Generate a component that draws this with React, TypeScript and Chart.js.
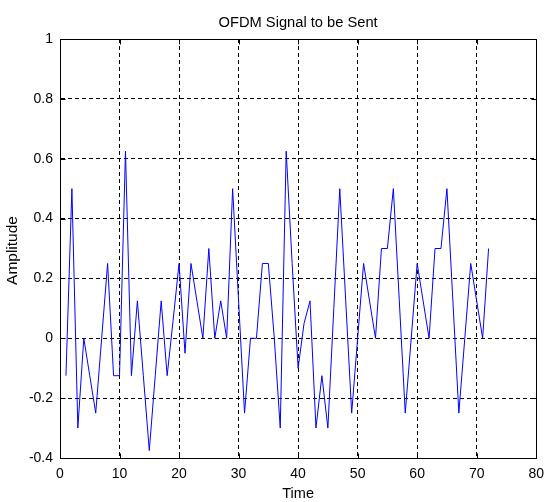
import React, { useEffect, useRef } from "react";
import { Chart, registerables } from "chart.js";

Chart.register(...registerables);

const TITLE = "OFDM Signal to be Sent";
const X_LABEL = "Time";
const Y_LABEL = "Amplitude";

const X_TICKS = [0, 10, 20, 30, 40, 50, 60, 70, 80];
const Y_TICKS = [-0.4, -0.2, 0, 0.2, 0.4, 0.6, 0.8, 1];
const Y_TICK_LABELS = ["-0.4", "-0.2", "0", "0.2", "0.4", "0.6", "0.8", "1"];

// Amplitude at time samples 1..72
const AMPLITUDE = [
  -0.125, 0.5, -0.3, 0, -0.125, -0.25, 0, 0.25, -0.125, -0.125,
  0.625, -0.125, 0.125, -0.125, -0.375, -0.125, 0.125, -0.125, 0.06, 0.25,
  -0.05, 0.25, 0.125, 0, 0.3, 0, 0.125, 0, 0.5, 0.125,
  -0.25, 0, 0, 0.25, 0.25, 0, -0.3, 0.625, 0.25, -0.1,
  0.05, 0.125, -0.3, -0.125, -0.3, 0.1, 0.5, 0.125, -0.25, 0,
  0.25, 0.125, 0, 0.3, 0.3, 0.5, 0.125, -0.25, 0, 0.25,
  0.125, 0, 0.3, 0.3, 0.5, 0.125, -0.25, 0, 0.25, 0.125,
  0, 0.3,
];

const FONT = '"Liberation Sans", Arial, sans-serif';

const framePlugin = {
  id: "matlabFrame",
  afterDraw(chart: any) {
    const { ctx, chartArea } = chart;
    const l = Math.round(chartArea.left) + 0.5;
    const r = Math.round(chartArea.right) + 0.5;
    const t = Math.round(chartArea.top) + 0.5;
    const b = Math.round(chartArea.bottom) + 0.5;
    ctx.save();
    ctx.setLineDash([]);
    ctx.strokeStyle = "#000";
    ctx.lineWidth = 1;
    ctx.strokeRect(l, t, r - l, b - t);
    const tl = 5;
    ctx.beginPath();
    X_TICKS.forEach((v) => {
      const px = Math.round(chart.scales.x.getPixelForValue(v)) + 0.5;
      ctx.moveTo(px, b);
      ctx.lineTo(px, b - tl);
      ctx.moveTo(px, t);
      ctx.lineTo(px, t + tl);
    });
    Y_TICKS.forEach((v) => {
      const py = Math.round(chart.scales.y.getPixelForValue(v)) + 0.5;
      ctx.moveTo(l, py);
      ctx.lineTo(l + tl, py);
      ctx.moveTo(r, py);
      ctx.lineTo(r - tl, py);
    });
    ctx.stroke();

    ctx.fillStyle = "#000";
    ctx.textAlign = "center";
    ctx.textBaseline = "alphabetic";
    const cx = (chartArea.left + chartArea.right) / 2;
    ctx.font = `14.7px ${FONT}`;
    ctx.fillText(TITLE, cx, 27);
    ctx.font = `14.5px ${FONT}`;
    ctx.fillText(X_LABEL, cx, 498);
    ctx.font = `15.5px ${FONT}`;
    ctx.translate(17, (chartArea.top + chartArea.bottom) / 2 + 2);
    ctx.rotate(-Math.PI / 2);
    ctx.fillText(Y_LABEL, 0, 0);
    ctx.restore();
  },
};

export default function App() {
  const canvasRef = useRef<HTMLCanvasElement | null>(null);

  useEffect(() => {
    const canvas = canvasRef.current;
    if (!canvas) return;
    const chart = new Chart(canvas, {
      type: "line",
      data: {
        datasets: [
          {
            data: AMPLITUDE.map((y, i) => ({ x: i + 1, y })),
            borderColor: "#0000ff",
            borderWidth: 1,
            pointRadius: 0,
            tension: 0,
            fill: false,
          },
        ],
      },
      options: {
        animation: false,
        responsive: false,
        events: [],
        layout: { padding: { top: 39, left: 0, right: 9, bottom: 0 } },
        plugins: {
          legend: { display: false },
          title: { display: false },
          tooltip: { enabled: false },
        },
        scales: {
          x: {
            type: "linear",
            min: 0,
            max: 80,
            afterBuildTicks: (scale: any) => {
              scale.ticks = X_TICKS.map((v) => ({ value: v }));
            },
            afterFit: (scale: any) => {
              scale.height = 44;
            },
            ticks: {
              color: "#000",
              font: { family: FONT, size: 14 },
              padding: 8,
              maxRotation: 0,
              autoSkip: false,
              callback: (v: any) => String(v),
            },
            grid: { color: "#000", lineWidth: 1, drawTicks: false },
            border: { display: true, color: "#000", width: 1, dash: [4, 3] },
          },
          y: {
            type: "linear",
            min: -0.4,
            max: 1,
            afterBuildTicks: (scale: any) => {
              scale.ticks = Y_TICKS.map((v) => ({ value: v }));
            },
            afterFit: (scale: any) => {
              scale.width = 60;
            },
            ticks: {
              color: "#000",
              font: { family: FONT, size: 14 },
              padding: 7,
              autoSkip: false,
              callback: (v: any) => {
                const idx = Y_TICKS.findIndex((t) => Math.abs(t - v) < 1e-9);
                return idx >= 0 ? Y_TICK_LABELS[idx] : "";
              },
            },
            grid: { color: "#000", lineWidth: 1, drawTicks: false },
            border: { display: true, color: "#000", width: 1, dash: [4, 3] },
          },
        },
      },
      plugins: [framePlugin],
    });
    return () => chart.destroy();
  }, []);

  return (
    <div
      style={{
        position: "fixed",
        left: 0,
        top: 0,
        width: 552,
        height: 502,
        background: "#fff",
      }}
    >
      <canvas ref={canvasRef} width={552} height={502} />
    </div>
  );
}
